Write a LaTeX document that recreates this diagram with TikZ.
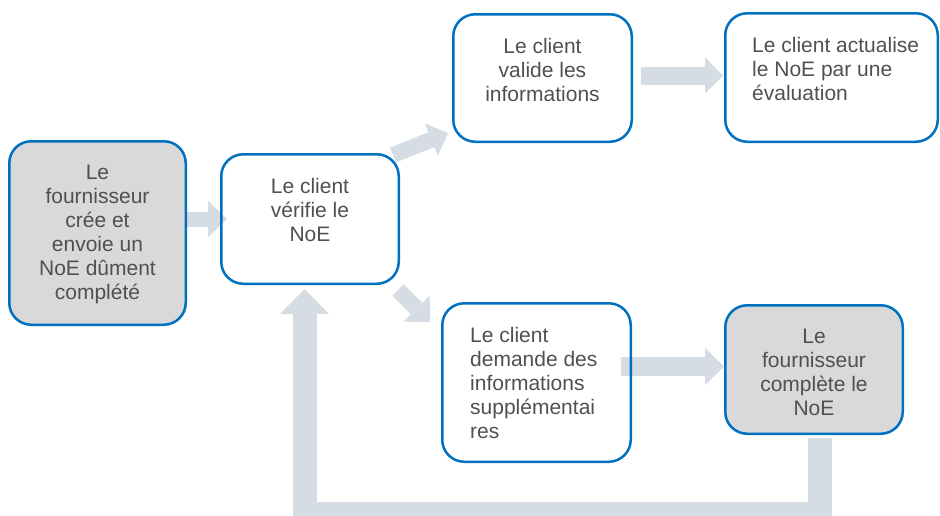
\documentclass[tikz,border=0pt]{standalone}
\usepackage{fontspec}
\setmainfont{Liberation Sans}
\usetikzlibrary{arrows.meta,backgrounds}
\definecolor{bblue}{HTML}{0070C0}
\definecolor{bgray}{HTML}{D9D9D9}
\definecolor{agray}{HTML}{D6DCE4}
\definecolor{tgray}{HTML}{505050}
\begin{document}
\begin{tikzpicture}[x=1pt,y=-1pt,
  box/.style={rectangle, draw=bblue, line width=2.5pt, rounded corners=22pt, inner sep=0pt},
  graybox/.style={box, fill=bgray},
  txt/.style={font=\fontsize{21}{24}\selectfont, text=tgray, inner sep=0pt},
  fatarrow/.style n args={3}{draw=agray, line width=#1, line join=miter,
    -{Triangle[length=#3, width=#2, line width=0pt]}},
]
\useasboundingbox (0,0) rectangle (940,515);

% boxes
\node[graybox, minimum width=176.5pt, minimum height=183.5pt] (b1) at (97.5,233) {};
\node[box, minimum width=177.5pt, minimum height=129.5pt] (b2) at (310,219) {};
\node[box, minimum width=178.5pt, minimum height=127.5pt] (b3) at (542.5,78) {};
\node[box, minimum width=212.5pt, minimum height=128.5pt] (b4) at (831.5,77.5) {};
\node[box, minimum width=188.5pt, minimum height=158.5pt] (b5) at (536.5,382.5) {};
\node[graybox, minimum width=177.5pt, minimum height=128.5pt] (b6) at (814,369.5) {};

% texts
\node[txt, align=center, anchor=north] (t1) at ([yshift=-25pt]b1.north)
  {Le\\fournisseur\\crée et\\envoie un\\NoE dûment\\complété};
\node[txt, align=center, anchor=north] (t2) at ([yshift=-25pt]b2.north)
  {Le client\\vérifie le\\NoE};
\node[txt, align=center, anchor=north] (t3) at ([yshift=-25pt]b3.north)
  {Le client\\valide les\\informations};
\node[txt, align=left, anchor=north west] (t4) at (752,37)
  {Le client actualise\\le NoE par une\\évaluation};
\node[txt, align=left, anchor=north west] (t5) at (470,327)
  {Le client\\demande des\\informations\\supplémentai\\res};
\node[txt, align=center, anchor=north] (t6) at ([yshift=-25pt]b6.north)
  {Le\\fournisseur\\complète le\\NoE};

% connectors (block arrows) behind the box borders
\coordinate (s12) at (187,219);
\coordinate (e12) at (227,219);
\coordinate (s23) at ([xshift=-7pt,yshift=-2pt]b2.north east);
\coordinate (e23) at ([xshift=-4pt,yshift=10pt]b3.south west);
\coordinate (s25) at ([xshift=-2pt,yshift=-5pt]b2.south east);
\coordinate (e25) at ([xshift=-11pt,yshift=-20pt]b5.north west);
\coordinate (s34) at (641,75.5);
\coordinate (e34) at (723,75.5);
\coordinate (s56) at (621,366.5);
\coordinate (e56) at (724,366.5);
\coordinate (f1) at (820,438);
\coordinate (f2) at (820,514);
\coordinate (f3) at (304.5,514);
\coordinate (f4) at (304.5,289);

\begin{scope}[on background layer]
  \draw[fatarrow={15pt}{37pt}{19pt}] (s12) -- (e12);
  \draw[fatarrow={16pt}{35pt}{18pt}] (s23) -- (e23);
  \draw[fatarrow={16pt}{37pt}{19pt}] (s25) -- (e25);
  \draw[fatarrow={18pt}{36pt}{18pt}] (s34) -- (e34);
  \draw[fatarrow={19pt}{37pt}{19pt}] (s56) -- (e56);
  \draw[fatarrow={24pt}{49pt}{25pt}] (f1) -- (f2) -- (f3) -- (f4);
\end{scope}
\end{tikzpicture}
\end{document}
